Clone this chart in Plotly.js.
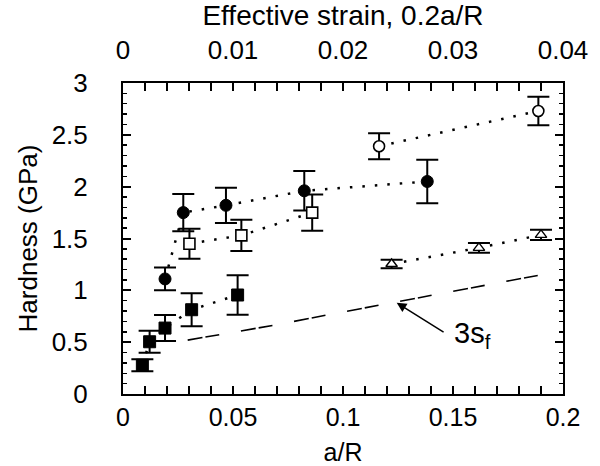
<!DOCTYPE html>
<html>
<head>
<meta charset="utf-8">
<script src="https://cdn.plot.ly/plotly-3.0.1.min.js"></script>
<style>html,body{margin:0;padding:0;background:#fff;}#chart{width:600px;height:466px;}</style>
</head>
<body>
<div id="chart"></div>
<script>
// a/R values, hardness (GPa) and error bars
const fcX = [0.0191, 0.0274, 0.0468, 0.0824, 0.1383];
const fcY = [1.11, 1.75, 1.82, 1.96, 2.05];
const fcE = [0.11, 0.18, 0.17, 0.19, 0.21];

const osX = [0.0302, 0.0538, 0.086];
const osY = [1.45, 1.53, 1.75];
const osE = [0.145, 0.15, 0.175];

const ocX = [0.1164, 0.1888];
const ocY = [2.39, 2.73];
const ocE = [0.125, 0.137];

const otX = [0.1221, 0.1618, 0.19];
const otY = [1.254, 1.41, 1.535];
const otE = [0.04, 0.047, 0.05];

const fsX = [0.0088, 0.0121, 0.0191, 0.0312, 0.0521];
const fsY = [0.277, 0.504, 0.636, 0.813, 0.955];
const fsE = [0.058, 0.105, 0.125, 0.16, 0.19];

const sfX = [0.0294, 0.0441, 0.0683, 0.0926, 0.1168, 0.1403, 0.1645, 0.1888];
const sfY = [0.52, 0.572, 0.662, 0.762, 0.858, 0.952, 1.044, 1.145];

const xTicks = [0, 0.05, 0.1, 0.15, 0.2];
const topTicks = [0, 0.01, 0.02, 0.03, 0.04];
const yTicks = [0, 0.5, 1, 1.5, 2, 2.5, 3];

const FONT = "Liberation Sans, Arial, sans-serif";
const dotLine = {color: '#000', width: 2.5, dash: '2.5px,10px'};

function series(x, y, e, symbol, fill, size, lw) {
  return {
    x: x, y: y, type: 'scatter', mode: 'lines+markers',
    line: dotLine,
    marker: {symbol: symbol, size: size, color: fill, line: {color: '#000', width: lw}},
    error_y: {type: 'data', array: e, visible: true, color: '#000', thickness: 2, width: 11},
    cliponaxis: false, showlegend: false, hoverinfo: 'skip'
  };
}

const traces = [
  {x: sfX, y: sfY, type: 'scatter', mode: 'lines',
   line: {color: '#000', width: 1.6, dash: '15px,3px,14px,22px'}, showlegend: false, hoverinfo: 'skip'},
  series(fsX, fsY, fsE, 'square', '#000', 12, 1),
  series(fcX, fcY, fcE, 'circle', '#000', 12, 1),
  series(osX, osY, osE, 'square', '#fff', 11, 1.6),
  series(ocX, ocY, ocE, 'circle', '#fff', 11, 1.6),
  series(otX, otY, otE, 'triangle-up', '#fff', 10, 1.4),
  {x: [0], y: [0], xaxis: 'x2', yaxis: 'y', type: 'scatter', mode: 'markers',
   marker: {opacity: 0}, showlegend: false, hoverinfo: 'skip'},
  {x: [0], y: [0], xaxis: 'x', yaxis: 'y2', type: 'scatter', mode: 'markers',
   marker: {opacity: 0}, showlegend: false, hoverinfo: 'skip'}
];

const layout = {
  width: 600, height: 466,
  margin: {l: 123, r: 37, t: 83, b: 72},
  paper_bgcolor: '#fff', plot_bgcolor: '#fff',
  font: {family: FONT, size: 26, color: '#000'},
  xaxis: {
    range: [0, 0.2], tickvals: xTicks, ticktext: xTicks.map(String),
    ticks: 'inside', ticklen: 8, tickwidth: 2, tickcolor: '#000',
    minor: {dtick: 0.01, ticks: 'inside', ticklen: 4, tickwidth: 1.5, tickcolor: '#000', showgrid: false},
    showline: true, linewidth: 2, linecolor: '#000', mirror: 'allticks',
    showgrid: false, zeroline: false,
    tickfont: {family: FONT, size: 25},
    title: {text: 'a/R', font: {family: FONT, size: 25}, standoff: 14}
  },
  xaxis2: {
    overlaying: 'x', side: 'top', anchor: 'y',
    range: [0, 0.04], tickvals: topTicks, ticktext: topTicks.map(String),
    ticks: '', showline: false, showgrid: false, zeroline: false,
    tickfont: {family: FONT, size: 26}, ticklabelstandoff: 18,
    title: {text: 'Effective strain, 0.2a/R', font: {family: FONT, size: 28}, standoff: 0}
  },
  yaxis: {
    range: [0, 3], tickvals: yTicks, ticktext: yTicks.map(String),
    ticks: 'outside', ticklen: 29, tickwidth: 1, tickcolor: 'rgba(0,0,0,0)',
    showline: false, showgrid: false, zeroline: false,
    tickfont: {family: FONT, size: 26},
    title: {text: 'Hardness (GPa)', font: {family: FONT, size: 26}, standoff: 6}
  },
  yaxis2: {
    overlaying: 'y', side: 'left', anchor: 'x', matches: 'y',
    range: [0, 3], tickvals: yTicks, showticklabels: false,
    ticks: 'inside', ticklen: 8, tickwidth: 2, tickcolor: '#000',
    minor: {dtick: 0.1, ticks: 'inside', ticklen: 4, tickwidth: 1.5, tickcolor: '#000', showgrid: false},
    showline: true, linewidth: 2, linecolor: '#000', mirror: 'allticks',
    showgrid: false, zeroline: false
  },
  annotations: [
    {x: 0.1244, y: 0.88, xref: 'x', yref: 'y', ax: 0.1464, ay: 0.588, axref: 'x', ayref: 'y',
     text: '', showarrow: true, arrowhead: 2, arrowsize: 1.3, arrowwidth: 1.5, arrowcolor: '#000'},
    {x: 0.1495, y: 0.57, xref: 'x', yref: 'y', text: '3s<sub>f</sub>', showarrow: false,
     font: {family: FONT, size: 29, color: '#000'}, xanchor: 'left', yanchor: 'middle'}
  ]
};

Plotly.newPlot('chart', traces, layout, {displayModeBar: false, staticPlot: true});
</script>
</body>
</html>
